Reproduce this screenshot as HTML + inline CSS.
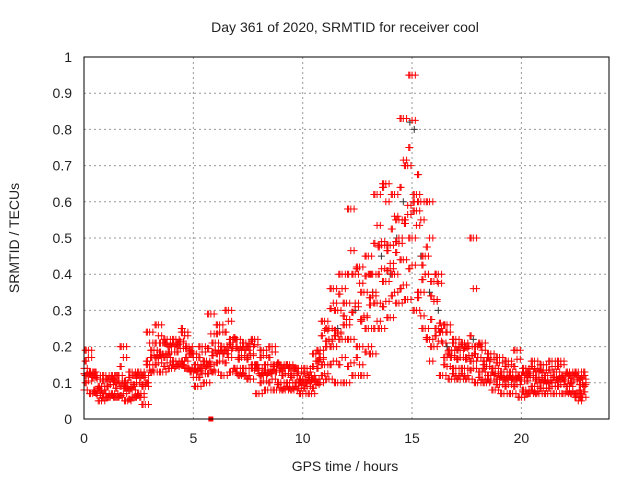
<!DOCTYPE html>
<html><head><meta charset="utf-8"><style>
body{margin:0;background:#fff}
svg text{font-family:"Liberation Sans",sans-serif;font-size:14px;fill:#222}
</style></head><body>
<svg id="chart" width="640" height="480" xmlns="http://www.w3.org/2000/svg">
<rect width="640" height="480" fill="#fff"/>
<text x="345" y="32" text-anchor="middle">Day 361 of 2020, SRMTID for receiver cool</text>
<text x="345" y="471" text-anchor="middle">GPS time / hours</text>
<text transform="translate(19,238) rotate(-90)" text-anchor="middle">SRMTID / TECUs</text>
<g id="grid"></g>
<g id="ticks"></g>
<g id="marks"></g>
<rect x="84" y="57" width="525" height="362" fill="none" stroke="#000" stroke-width="1"/>
</svg>
<script>
const xTicks=[0,5,10,15,20];
const yTicks=[0,0.1,0.2,0.3,0.4,0.5,0.6,0.7,0.8,0.9,1];
const yTickLabels=["0","0.1","0.2","0.3","0.4","0.5","0.6","0.7","0.8","0.9","1"];
const hours=[0,0.2,0.4,0.6,0.8,1,1.2,1.4,1.6,1.8,2,2.2,2.4,2.6,2.8,3,3.2,3.4,3.6,3.8,4,4.2,4.4,4.6,4.8,5,5.2,5.4,5.6,5.8,6,6.2,6.4,6.6,6.8,7,7.2,7.4,7.6,7.8,8,8.2,8.4,8.6,8.8,9,9.2,9.4,9.6,9.8,10,10.2,10.4,10.6,10.8,11,11.2,11.4,11.6,11.8,12,12.2,12.4,12.6,12.8,13,13.2,13.4,13.6,13.8,14,14.2,14.4,14.6,14.8,15,15.2,15.4,15.6,15.8,16,16.2,16.4,16.6,16.8,17,17.2,17.4,17.6,17.8,18,18.2,18.4,18.6,18.8,19,19.2,19.4,19.6,19.8,20,20.2,20.4,20.6,20.8,21,21.2,21.4,21.6,21.8,22,22.2,22.4,22.6,22.8];
const s1=[.08,.09,.07,.05,.05,.05,.06,.05,.06,.05,.05,.04,.06,.05,.04,.12,.13,.14,.13,.14,.14,.13,.15,.12,.14,.10,.09,.11,.10,.12,.13,.14,.12,.15,.13,.11,.12,.10,.11,.12,.07,.09,.08,.09,.08,.07,.08,.07,.08,.07,.07,.08,.07,.08,.10,.10,.11,.12,.10,.12,.10,.09,.12,.10,.12,.15,.18,.22,.25,.27,.28,.30,.32,.30,.33,.35,.30,.22,.25,.10,.20,.18,.12,.12,.11,.10,.11,.10,.11,.12,.10,.09,.10,.09,.08,.08,.07,.08,.07,.08,.06,.06,.07,.06,.07,.07,.07,.08,.07,.08,.07,.06,.07,.03,.06];
const s2=[.11,.12,.10,.08,.07,.07,.08,.07,.08,.09,.07,.08,.08,.07,.08,.15,.16,.17,.15,.17,.17,.16,.18,.16,.17,.13,.12,.14,.13,.15,.17,.18,.16,.19,.17,.14,.15,.14,.16,.15,.11,.12,.11,.13,.12,.10,.11,.10,.11,.10,.09,.10,.09,.11,.14,.15,.18,.20,.18,.22,.20,.22,.24,.20,.22,.25,.28,.32,.35,.38,.38,.40,.42,.44,.48,.50,.45,.35,.35,.22,.28,.25,.18,.17,.15,.14,.15,.14,.15,.16,.14,.13,.13,.12,.11,.11,.10,.11,.10,.11,.09,.08,.10,.09,.10,.10,.09,.10,.10,.11,.09,.09,.09,.07,.09];
const s3=[.14,.15,.13,.10,.09,.10,.11,.09,.12,.14,.10,.11,.12,.10,.12,.18,.19,.20,.21,.19,.20,.19,.21,.22,.20,.16,.15,.17,.16,.18,.21,.22,.20,.24,.22,.18,.19,.17,.20,.19,.14,.16,.15,.17,.15,.13,.14,.13,.14,.12,.11,.12,.12,.14,.19,.22,.25,.28,.30,.32,.32,.35,.40,.33,.35,.35,.40,.45,.48,.55,.48,.50,.55,.60,.70,.70,.62,.50,.45,.40,.38,.35,.24,.22,.19,.18,.19,.18,.20,.22,.20,.17,.16,.15,.14,.14,.13,.14,.13,.14,.12,.11,.13,.12,.13,.12,.12,.13,.13,.14,.12,.11,.12,.10,.11];
const s4=[.17,.19,.16,.12,.11,.12,.13,.12,.15,.20,.12,.13,.14,.13,.14,.24,.22,.26,.23,.22,.23,.22,.28,.24,.22,.18,.17,.20,.21,.29,.25,.26,.24,.30,.27,.22,.23,.21,.24,.22,.18,.19,.17,.20,.18,.15,.17,.15,.16,.14,.13,.14,.15,.18,.24,.27,.33,.36,.37,.40,.45,.58,.50,.42,.44,.45,.52,.62,.73,.65,.55,.62,.68,.83,.80,.95,.85,.60,.55,.60,.45,.40,.30,.26,.24,.22,.23,.21,.24,.50,.24,.21,.19,.18,.17,.17,.15,.16,.15,.19,.15,.14,.17,.16,.15,.15,.14,.16,.15,.16,.14,.13,.15,.13,.13];
const grayHours=[11.6,12.4,13.2,13.6,14,14.3,14.6,14.9,15.1,15.4,15.8,16.2,16.6,17.8];
const grayVals=[0.25,0.3,0.35,0.45,0.4,0.5,0.6,0.82,0.8,0.45,0.35,0.3,0.2,0.22];
const xS=v=>84+v*21.87;
const yS=v=>419-v*362;
const NS="http://www.w3.org/2000/svg";
const grid=document.getElementById('grid'),ticks=document.getElementById('ticks'),marks=document.getElementById('marks');
xTicks.forEach(t=>{
 const x=xS(t);
 if(t>0){const l=document.createElementNS(NS,'line');l.setAttribute('x1',x);l.setAttribute('x2',x);l.setAttribute('y1',57);l.setAttribute('y2',419);l.setAttribute('stroke','#999');l.setAttribute('stroke-dasharray','2,3');
 
 
 grid.appendChild(l);}
 const tx=document.createElementNS(NS,'text');tx.setAttribute('x',x);tx.setAttribute('y',443);tx.setAttribute('text-anchor','middle');tx.textContent=t;
 
 
 ticks.appendChild(tx);
});
yTicks.forEach((t,i)=>{
 const y=yS(t);
 if(t>0&&t<1){const l=document.createElementNS(NS,'line');l.setAttribute('x1',84);l.setAttribute('x2',609);l.setAttribute('y1',y);l.setAttribute('y2',y);l.setAttribute('stroke','#999');l.setAttribute('stroke-dasharray','2,3');
 
 
 grid.appendChild(l);}
 const tx=document.createElementNS(NS,'text');tx.setAttribute('x',72);tx.setAttribute('y',y+5);tx.setAttribute('text-anchor','end');tx.textContent=yTickLabels[i];
 
 
 ticks.appendChild(tx);
});
function cross(h,v,c){
 const p=document.createElementNS(NS,'path');
 p.setAttribute('d','M'+(xS(h)-3.5)+' '+yS(v)+'h7M'+xS(h)+' '+(yS(v)-3.5)+'v7');
 p.setAttribute('stroke',c);p.setAttribute('stroke-width','1');
 
 
 marks.appendChild(p);
}
grayHours.forEach((h,i)=>cross(h,grayVals[i],'#333'));
const S=[s1,s2,s3,s4];
const n=hours.length;
const perms=[[0,1,2,3],[2,3,0,1],[1,0,3,2],[3,2,1,0]];
const offs=[0,0.05,0.1,0.15];
const shifts=[0,1,1,0];
perms.forEach((pm,j)=>{
 hours.forEach((h,i)=>{
  const ii=Math.min(n-1,i+shifts[j]);
  pm.forEach((k,q)=>{
   const v=(i+q+j)%2===0?S[k][ii]:(S[k][ii]+S[(k+1)%4][i])/2;
   cross(h+offs[j],v,'#f00');
  });
 });
});
const sq=document.createElementNS(NS,'rect');sq.setAttribute('x',xS(5.8)-2.5);sq.setAttribute('y',yS(0)-2.5);sq.setAttribute('width',5);sq.setAttribute('height',5);sq.setAttribute('fill','#f00');


marks.appendChild(sq);
</script>
</body></html>
